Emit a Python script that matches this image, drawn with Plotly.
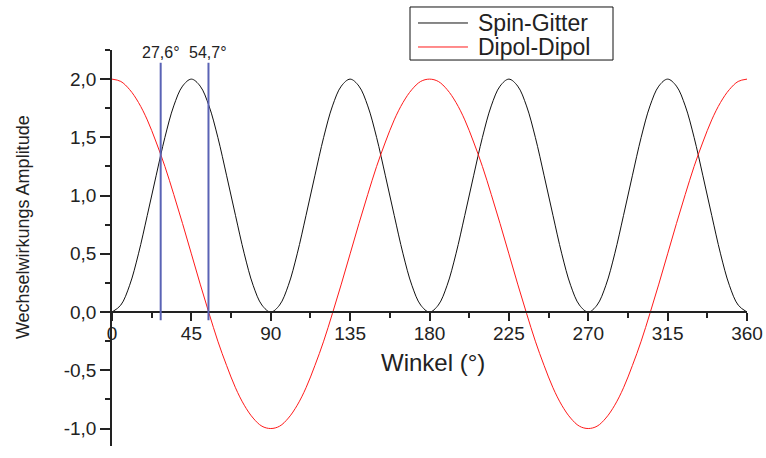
import plotly.graph_objects as go

# Angle grid (degrees)
winkel = [0, 5, 10, 15, 20, 25, 30, 35, 40, 45, 50, 55, 60, 65, 70, 75, 80, 85,
          90, 95, 100, 105, 110, 115, 120, 125, 130, 135, 140, 145, 150, 155, 160, 165, 170, 175,
          180, 185, 190, 195, 200, 205, 210, 215, 220, 225, 230, 235, 240, 245, 250, 255, 260, 265,
          270, 275, 280, 285, 290, 295, 300, 305, 310, 315, 320, 325, 330, 335, 340, 345, 350, 355,
          360]

# Values
spin_gitter = [0, 0.06, 0.23, 0.5, 0.83, 1.17, 1.5, 1.77, 1.94, 2.0, 1.94, 1.77, 1.5, 1.17, 0.83, 0.5, 0.23, 0.06,
               0, 0.06, 0.23, 0.5, 0.83, 1.17, 1.5, 1.77, 1.94, 2.0, 1.94, 1.77, 1.5, 1.17, 0.83, 0.5, 0.23, 0.06,
               0, 0.06, 0.23, 0.5, 0.83, 1.17, 1.5, 1.77, 1.94, 2.0, 1.94, 1.77, 1.5, 1.17, 0.83, 0.5, 0.23, 0.06,
               0, 0.06, 0.23, 0.5, 0.83, 1.17, 1.5, 1.77, 1.94, 2.0, 1.94, 1.77, 1.5, 1.17, 0.83, 0.5, 0.23, 0.06,
               0]

dipol_dipol = [2.0, 1.98, 1.91, 1.80, 1.65, 1.46, 1.25, 1.01, 0.76, 0.5, 0.24, -0.01, -0.25, -0.46, -0.65, -0.80, -0.91, -0.98,
               -1.0, -0.98, -0.91, -0.80, -0.65, -0.46, -0.25, -0.01, 0.24, 0.5, 0.76, 1.01, 1.25, 1.46, 1.65, 1.80, 1.91, 1.98,
               2.0, 1.98, 1.91, 1.80, 1.65, 1.46, 1.25, 1.01, 0.76, 0.5, 0.24, -0.01, -0.25, -0.46, -0.65, -0.80, -0.91, -0.98,
               -1.0, -0.98, -0.91, -0.80, -0.65, -0.46, -0.25, -0.01, 0.24, 0.5, 0.76, 1.01, 1.25, 1.46, 1.65, 1.80, 1.91, 1.98,
               2.0]

series_names = ["Spin-Gitter", "Dipol-Dipol"]
series_colors = ["#111111", "#ff1a1a"]

marker_angles = [27.6, 54.7]
marker_labels = ["27,6°", "54,7°"]

x_ticks = [0, 45, 90, 135, 180, 225, 270, 315, 360]
x_ticktext = ["0", "45", "90", "135", "180", "225", "270", "315", "360"]
y_ticks = [-1.0, -0.5, 0.0, 0.5, 1.0, 1.5, 2.0]
y_ticktext = ["-1,0", "-0,5", "0,0", "0,5", "1,0", "1,5", "2,0"]

y_range = [-1.15, 2.25]
FONT = "Liberation Sans, Arial, sans-serif"
TXT = "#222222"

fig = go.Figure()
for name, vals, col in zip(series_names, [spin_gitter, dipol_dipol], series_colors):
    fig.add_trace(go.Scatter(x=winkel, y=vals, mode="lines", name=name, showlegend=False,
                             line=dict(color=col, width=1, shape="spline")))

for a, lab in zip(marker_angles, marker_labels):
    fig.add_shape(type="line", xref="x", yref="y", x0=a, x1=a, y0=-0.07, y1=2.14,
                  line=dict(color="#5a63b5", width=2))
    fig.add_annotation(x=a, y=2.23, xref="x", yref="y", text=lab, showarrow=False,
                       font=dict(family=FONT, size=16, color=TXT), yanchor="middle")

# Legend box (drawn in paper coordinates)
fig.add_shape(type="rect", xref="paper", yref="paper", x0=0.4693, x1=0.789,
              y0=0.9747, y1=1.1086, line=dict(color="#111111", width=1),
              fillcolor="white", layer="above")
for name, col, yy in zip(series_names, series_colors, [1.0682, 1.0076]):
    fig.add_shape(type="line", xref="paper", yref="paper", x0=0.4819, x1=0.5606,
                  y0=yy, y1=yy, line=dict(color=col, width=1), layer="above")
    fig.add_annotation(x=0.5732, y=yy, xref="paper", yref="paper", text=name,
                       showarrow=False, xanchor="left", yanchor="middle",
                       font=dict(family=FONT, size=23, color=TXT))

zero_pos = (0 - y_range[0]) / (y_range[1] - y_range[0])

fig.update_layout(
    width=766, height=458,
    margin=dict(l=112, r=19, t=50, b=12, autoexpand=False),
    paper_bgcolor="white", plot_bgcolor="white",
    showlegend=False,
    xaxis=dict(range=[0, 360], tickvals=x_ticks, ticktext=x_ticktext, ticks="outside", ticklen=8,
               tickwidth=1.5, tickcolor="#222", showline=True, linecolor="#222",
               linewidth=1.5, showgrid=False, zeroline=False, automargin=False,
               anchor="free", position=zero_pos, ticklabelstandoff=-4,
               tickfont=dict(family=FONT, size=19, color=TXT),
               minor=dict(dtick=22.5, tick0=0, ticks="outside", ticklen=5,
                          tickwidth=1.5, tickcolor="#222", showgrid=False)),
    yaxis=dict(range=y_range, tickvals=y_ticks, ticktext=y_ticktext, ticks="outside",
               ticklen=10, tickwidth=1.5, tickcolor="#222", showline=True,
               linecolor="#222", linewidth=1.5, showgrid=False, zeroline=False,
               automargin=False,
               tickfont=dict(family=FONT, size=19, color=TXT),
               minor=dict(dtick=0.25, tick0=0, ticks="outside", ticklen=5,
                          tickwidth=1.5, tickcolor="#222", showgrid=False)),
)

fig.add_annotation(x=0.506, y=0.212, xref="paper", yref="paper", text="Winkel (°)",
                   showarrow=False, xanchor="center", yanchor="middle",
                   font=dict(family=FONT, size=24, color=TXT))
fig.add_annotation(x=-0.140, y=0.553, xref="paper", yref="paper",
                   text="Wechselwirkungs Amplitude", textangle=-90, showarrow=False,
                   xanchor="center", yanchor="middle",
                   font=dict(family=FONT, size=18, color=TXT))

fig.write_html("out.html")
